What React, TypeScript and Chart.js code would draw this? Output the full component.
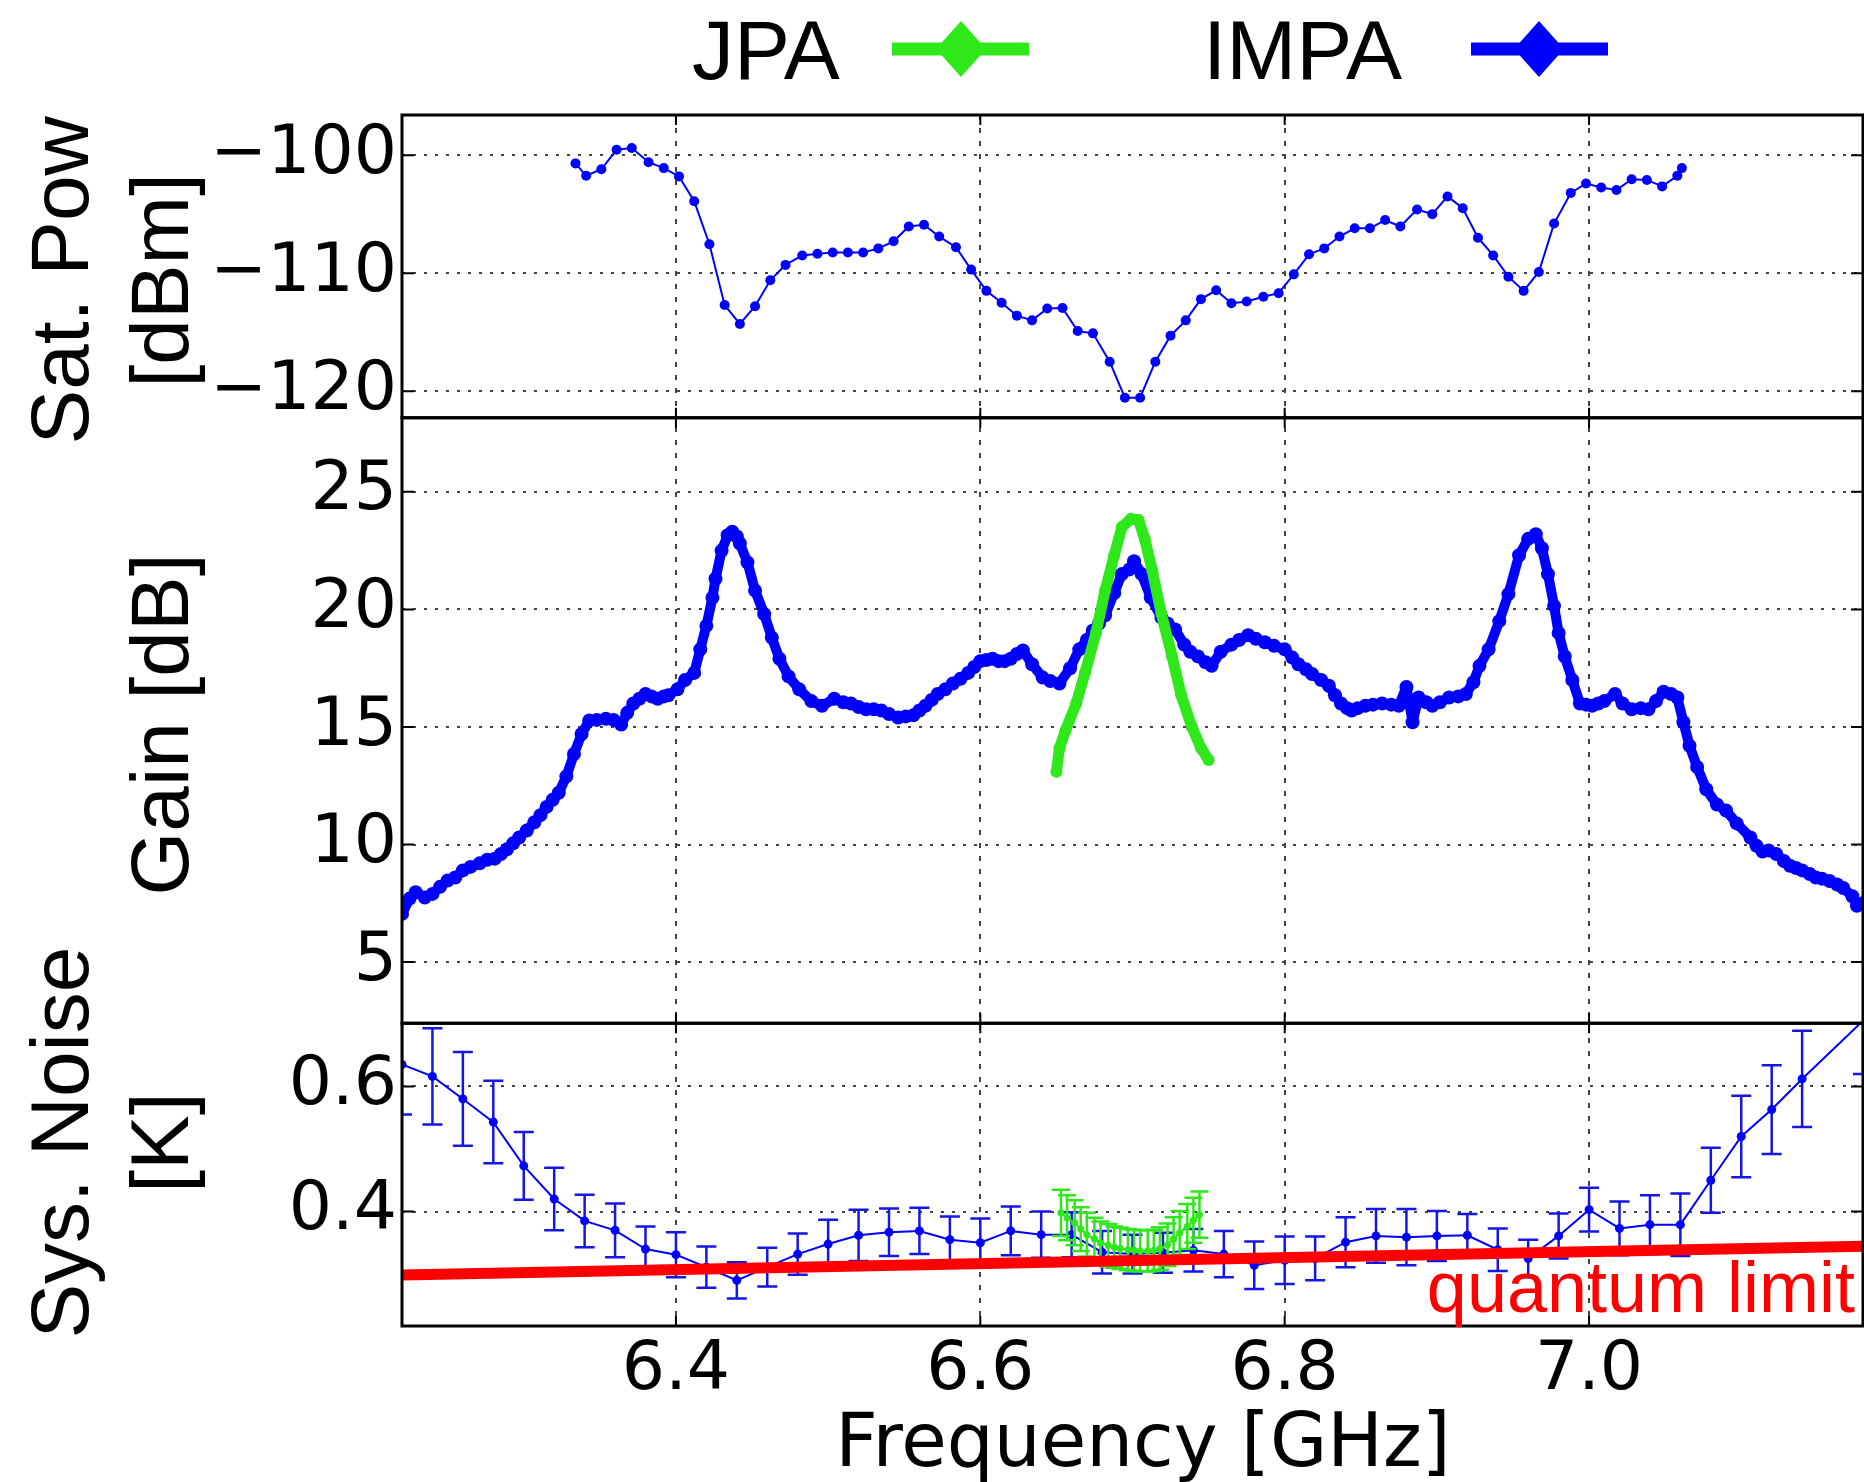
import React, { useEffect, useRef } from 'react';
import { Chart, registerables } from 'chart.js';

Chart.register(...registerables);

// ---------- tick labels ----------
const FREQ_TICKS = [6.4, 6.6, 6.8, 7.0];
const SAT_TICKS = [-120, -110, -100];
const GAIN_TICKS = [5, 10, 15, 20, 25];
const NOISE_TICKS = [0.4, 0.6];

// ---------- saturation power (IMPA) ----------
const SAT_FREQ = [
  6.334, 6.341, 6.351, 6.361, 6.371, 6.382, 6.392, 6.402, 6.412, 6.422,
  6.432, 6.442, 6.452, 6.462, 6.472, 6.483, 6.493, 6.503, 6.513, 6.523,
  6.533, 6.543, 6.553, 6.563, 6.573, 6.584, 6.594, 6.604, 6.614, 6.624,
  6.634, 6.644, 6.654, 6.664, 6.674, 6.685, 6.695, 6.705, 6.715, 6.725,
  6.735, 6.745, 6.755, 6.765, 6.775, 6.786, 6.796, 6.806, 6.816, 6.826,
  6.836, 6.846, 6.856, 6.866, 6.876, 6.887, 6.897, 6.907, 6.917, 6.927,
  6.937, 6.947, 6.957, 6.967, 6.977, 6.988, 6.998, 7.008, 7.018, 7.028,
  7.038, 7.048, 7.058, 7.061,
];
const SAT_POW = [
  -100.7, -101.75, -101.2, -99.55, -99.4, -100.6, -101.1, -101.8, -103.9, -107.55,
  -112.7, -114.3, -112.8, -110.6, -109.3, -108.5, -108.35, -108.25, -108.25, -108.25,
  -107.9, -107.3, -106.05, -105.9, -106.9, -107.8, -109.7, -111.5, -112.5, -113.6,
  -114.0, -113.0, -112.95, -114.9, -115.1, -117.5, -120.55, -120.55, -117.5, -115.3,
  -114.0, -112.2, -111.45, -112.55, -112.4, -112.0, -111.7, -110.1, -108.4, -107.9,
  -106.9, -106.2, -106.2, -105.5, -106.05, -104.6, -105.0, -103.5, -104.5, -107.0,
  -108.5, -110.3, -111.5, -109.9, -105.8, -103.2, -102.4, -102.75, -102.95, -102.05,
  -102.1, -102.65, -101.75, -101.1,
];

// ---------- gain ----------
const GAIN_FREQ = [
  6.220, 6.225, 6.229, 6.235, 6.240, 6.245, 6.250, 6.255, 6.260, 6.265,
  6.271, 6.276, 6.281, 6.285, 6.289, 6.293, 6.297, 6.302, 6.307, 6.311,
  6.315, 6.319, 6.323, 6.328, 6.333, 6.338, 6.343, 6.348, 6.354, 6.359,
  6.364, 6.368, 6.372, 6.376, 6.380, 6.384, 6.388, 6.392, 6.395, 6.401,
  6.406, 6.412, 6.416, 6.420, 6.424, 6.426, 6.430, 6.434, 6.437, 6.440,
  6.442, 6.447, 6.452, 6.458, 6.463, 6.468, 6.474, 6.481, 6.489, 6.496,
  6.504, 6.510, 6.515, 6.520, 6.525, 6.530, 6.535, 6.540, 6.546, 6.551,
  6.556, 6.560, 6.564, 6.568, 6.572, 6.577, 6.582, 6.587, 6.592, 6.596,
  6.600, 6.604, 6.608, 6.612, 6.616, 6.620, 6.624, 6.628, 6.634, 6.641,
  6.646, 6.652, 6.659, 6.665, 6.670, 6.674, 6.678, 6.682, 6.688, 6.693,
  6.698, 6.701, 6.706, 6.712, 6.719, 6.723, 6.728, 6.734, 6.738, 6.743,
  6.748, 6.752, 6.758, 6.765, 6.770, 6.776, 6.781, 6.787, 6.793, 6.800,
  6.805, 6.809, 6.814, 6.818, 6.824, 6.829, 6.833, 6.837, 6.841, 6.844,
  6.848, 6.853, 6.858, 6.864, 6.870, 6.875, 6.880, 6.882, 6.884, 6.888,
  6.893, 6.897, 6.902, 6.908, 6.914, 6.919, 6.924, 6.928, 6.934, 6.941,
  6.947, 6.954, 6.960, 6.965, 6.969, 6.973, 6.977, 6.980, 6.984, 6.989,
  6.994, 6.998, 7.002, 7.006, 7.010, 7.017, 7.022, 7.028, 7.034, 7.039,
  7.044, 7.049, 7.054, 7.058, 7.062, 7.066, 7.071, 7.077, 7.084, 7.090,
  7.097, 7.106, 7.110, 7.114, 7.118, 7.123, 7.128, 7.132, 7.136, 7.140,
  7.145, 7.149, 7.153, 7.158, 7.163, 7.167, 7.173, 7.176, 7.180,
];
const GAIN_IMPA = [
  7.05, 7.7, 7.97, 7.75, 7.9, 8.2, 8.47, 8.6, 8.9, 9.05,
  9.2, 9.35, 9.4, 9.6, 9.8, 10.05, 10.3, 10.6, 10.95, 11.25,
  11.6, 11.9, 12.2, 12.9, 13.85, 14.7, 15.27, 15.3, 15.35, 15.3,
  15.1, 15.6, 16.0, 16.2, 16.4, 16.3, 16.2, 16.3, 16.35, 16.6,
  17.0, 17.3, 18.3, 19.3, 20.5, 21.3, 22.5, 23.15, 23.3, 23.1,
  22.8, 22.0, 20.8, 19.8, 18.8, 17.9, 17.15, 16.6, 16.1, 15.9,
  16.2, 16.05, 16.0, 15.85, 15.75, 15.75, 15.7, 15.55, 15.4, 15.45,
  15.5, 15.7, 15.9, 16.15, 16.4, 16.6, 16.85, 17.05, 17.3, 17.55,
  17.8, 17.85, 17.9, 17.8, 17.8, 17.9, 18.1, 18.25, 17.67, 17.1,
  16.95, 16.85, 17.5, 18.3, 18.7, 19.1, 19.4, 19.75, 20.7, 21.5,
  21.7, 22.05, 21.5, 20.5, 19.65, 19.4, 19.15, 18.5, 18.2, 18.0,
  17.75, 17.6, 18.2, 18.5, 18.7, 18.9, 18.75, 18.6, 18.45, 18.3,
  17.95, 17.67, 17.45, 17.25, 17.0, 16.75, 16.35, 16.0, 15.8, 15.7,
  15.8, 15.9, 15.95, 16.0, 15.95, 15.9, 16.7, 16.0, 15.2, 16.25,
  16.05, 15.9, 16.05, 16.25, 16.3, 16.4, 16.9, 17.6, 18.3, 19.5,
  20.65, 22.3, 23.0, 23.2, 22.6, 21.5, 20.15, 19.0, 18.0, 17.0,
  16.0, 15.95, 15.9, 16.0, 16.1, 16.4, 16.0, 15.75, 15.8, 15.75,
  16.1, 16.5, 16.4, 16.25, 15.2, 14.2, 13.3, 12.35, 11.7, 11.45,
  10.9, 10.3, 9.95, 9.7, 9.75, 9.6, 9.3, 9.1, 9.0, 8.9,
  8.75, 8.6, 8.55, 8.45, 8.3, 8.15, 7.8, 7.4, 7.5,
];
const JPA_GAIN_FREQ = [
  6.650, 6.652, 6.656, 6.663, 6.669, 6.676, 6.682, 6.688, 6.693, 6.699,
  6.704, 6.708, 6.713, 6.719, 6.726, 6.732, 6.739, 6.745, 6.750,
];
const JPA_GAIN = [
  13.1, 14.1, 14.85, 16.0, 17.35, 19.0, 20.8, 22.3, 23.5, 23.85,
  23.8, 23.0, 21.65, 19.8, 18.0, 16.35, 15.0, 14.1, 13.6,
];

// ---------- system noise ----------
const NOISE_FREQ = [
  6.22, 6.24, 6.26, 6.28, 6.30, 6.32, 6.34, 6.36, 6.38, 6.40,
  6.42, 6.44, 6.46, 6.48, 6.50, 6.52, 6.54, 6.56, 6.58, 6.60,
  6.62, 6.64, 6.66, 6.68, 6.70, 6.72, 6.74, 6.76, 6.78, 6.80,
  6.82, 6.84, 6.86, 6.88, 6.90, 6.92, 6.94, 6.96, 6.98, 7.00,
  7.02, 7.04, 7.06, 7.08, 7.10, 7.12, 7.14, 7.18,
];
const NOISE_IMPA = [
  0.635, 0.616, 0.580, 0.543, 0.473, 0.420, 0.385, 0.370, 0.340, 0.331,
  0.311, 0.290, 0.311, 0.332, 0.348, 0.362, 0.367, 0.369, 0.355, 0.350,
  0.369, 0.363, 0.363, 0.335, 0.332, 0.334, 0.338, 0.332, 0.314, 0.322,
  0.325, 0.351, 0.361, 0.359, 0.361, 0.362, 0.339, 0.325, 0.361, 0.403,
  0.373, 0.379, 0.379, 0.450, 0.520, 0.563, 0.612, 0.705,
];
const NOISE_IMPA_ERR = [
  0.080, 0.077, 0.075, 0.066, 0.054, 0.050, 0.042, 0.043, 0.036, 0.036,
  0.033, 0.029, 0.031, 0.033, 0.039, 0.041, 0.038, 0.037, 0.037, 0.039,
  0.039, 0.037, 0.036, 0.034, 0.031, 0.032, 0.034, 0.037, 0.038, 0.038,
  0.035, 0.040, 0.043, 0.045, 0.040, 0.034, 0.034, 0.030, 0.036, 0.035,
  0.043, 0.047, 0.050, 0.052, 0.065, 0.071, 0.077, 0.085,
];
const JPA_NOISE_FREQ = [
  6.653, 6.657, 6.662, 6.666, 6.670, 6.675, 6.679, 6.684, 6.688, 6.692,
  6.697, 6.701, 6.705, 6.710, 6.714, 6.718, 6.723, 6.727, 6.731, 6.736,
  6.740, 6.744,
];
const JPA_NOISE = [
  0.398, 0.390, 0.382, 0.372, 0.363, 0.356, 0.350, 0.346, 0.343, 0.341,
  0.339, 0.338, 0.337, 0.337, 0.338, 0.341, 0.347, 0.356, 0.366, 0.376,
  0.386, 0.395,
];
const JPA_NOISE_ERR = [
  0.037, 0.036, 0.036, 0.035, 0.035, 0.034, 0.034, 0.034, 0.033, 0.033,
  0.033, 0.033, 0.033, 0.033, 0.033, 0.034, 0.034, 0.035, 0.035, 0.036,
  0.036, 0.037,
];
const QL_FREQ = [6.22, 7.18];
const QL_TEMP = [0.2985, 0.3445];

// ---------- styling ----------
const BLUE = '#0000ff';
const GREEN = '#2ee81a';
const RED = '#ff0000';
const W = 1870;
const H = 1482;
const TICK_FONT = { family: 'DejaVu Sans', size: 68 };

const pts = (xs: number[], ys: number[]) => xs.map((x, i) => ({ x, y: ys[i] }));

const panelPlugin = {
  id: 'panels',
  beforeDatasetDraw(chart: any, args: any) {
    const ds: any = chart.data.datasets[args.index];
    const ys: any = chart.scales[ds.yAxisID];
    const xs: any = chart.scales.x;
    const { ctx, chartArea } = chart;
    ctx.save();
    ctx.beginPath();
    ctx.rect(chartArea.left, ys.top, chartArea.right - chartArea.left, ys.bottom - ys.top);
    ctx.clip();
    if (ds.errors) {
      ctx.strokeStyle = ds.errorColor;
      ctx.lineWidth = ds.errorWidth;
      const cap = ds.capHalf;
      ds.data.forEach((p: any, i: number) => {
        const e = ds.errors[i];
        const px = xs.getPixelForValue(p.x);
        const t = ys.getPixelForValue(p.y + e);
        const b = ys.getPixelForValue(p.y - e);
        ctx.beginPath();
        ctx.moveTo(px, t); ctx.lineTo(px, b);
        ctx.moveTo(px - cap, t); ctx.lineTo(px + cap, t);
        ctx.moveTo(px - cap, b); ctx.lineTo(px + cap, b);
        ctx.stroke();
      });
    }
  },
  afterDatasetDraw(chart: any) {
    chart.ctx.restore();
  },
  afterDatasetsDraw(chart: any) {
    const { ctx, chartArea } = chart;
    const xs: any = chart.scales.x;
    const L = chartArea.left;
    const R = chartArea.right;
    ctx.save();
    ctx.strokeStyle = '#000';
    ['ySat', 'yGain', 'yNoise'].forEach((id) => {
      const ys: any = chart.scales[id];
      ctx.lineWidth = 2;
      ys.ticks.forEach((t: any) => {
        const py = ys.getPixelForValue(t.value);
        ctx.beginPath();
        ctx.moveTo(L, py); ctx.lineTo(L + 12, py);
        ctx.moveTo(R - 12, py); ctx.lineTo(R, py);
        ctx.stroke();
      });
      xs.ticks.forEach((t: any) => {
        const px = xs.getPixelForValue(t.value);
        ctx.beginPath();
        ctx.moveTo(px, ys.top); ctx.lineTo(px, ys.top + 10);
        ctx.moveTo(px, ys.bottom - 10); ctx.lineTo(px, ys.bottom);
        ctx.stroke();
      });
      ctx.lineWidth = 3;
      ctx.strokeRect(L, ys.top, R - L, ys.bottom - ys.top);
    });
    ctx.restore();
  },
  afterDraw(chart: any) {
    const { ctx } = chart;
    ctx.save();
    ctx.fillStyle = '#000';
    // y-axis titles
    const titles = [
      { id: 'ySat', dy: 14, lines: [['Sat. Pow', 88], ['[dBm]', 188]] },
      { id: 'yGain', dy: 4, lines: [['Gain [dB]', 188]] },
      { id: 'yNoise', dy: -32, lines: [['Sys. Noise', 88], ['[K]', 188]] },
    ];
    ctx.font = '82px "Liberation Sans"';
    ctx.textAlign = 'center';
    ctx.textBaseline = 'alphabetic';
    titles.forEach((tt) => {
      const ys: any = chart.scales[tt.id];
      const cy = (ys.top + ys.bottom) / 2 + tt.dy;
      tt.lines.forEach(([txt, bx]: any) => {
        ctx.save();
        ctx.translate(bx, cy);
        ctx.rotate(-Math.PI / 2);
        ctx.fillText(txt, 0, 0);
        ctx.restore();
      });
    });
    // x-axis title
    ctx.font = '74px "DejaVu Sans"';
    ctx.fillText('Frequency [GHz]', 1143, 1466);
    // quantum limit label
    ctx.fillStyle = RED;
    ctx.font = '72px "Liberation Sans"';
    ctx.textAlign = 'right';
    ctx.fillText('quantum limit', 1855, 1312);
    // legend
    const legend = [
      { label: 'JPA', color: GREEN, tx: 692, x0: 892, x1: 1029, dx: 961 },
      { label: 'IMPA', color: BLUE, tx: 1203, x0: 1471, x1: 1608, dx: 1539 },
    ];
    ctx.font = '84px "Liberation Sans"';
    ctx.textAlign = 'left';
    legend.forEach((lg) => {
      ctx.fillStyle = '#000';
      ctx.fillText(lg.label, lg.tx, 79);
      const cy = 49;
      ctx.strokeStyle = lg.color;
      ctx.lineWidth = 13;
      ctx.beginPath();
      ctx.moveTo(lg.x0, cy); ctx.lineTo(lg.x1, cy);
      ctx.stroke();
      ctx.fillStyle = lg.color;
      ctx.beginPath();
      ctx.moveTo(lg.dx, cy - 28);
      ctx.lineTo(lg.dx + 25, cy);
      ctx.lineTo(lg.dx, cy + 28);
      ctx.lineTo(lg.dx - 25, cy);
      ctx.closePath();
      ctx.fill();
    });
    ctx.restore();
  },
};

const yAxis = (
  ticks: number[],
  min: number,
  max: number,
  stackWeight: number,
  weight: number,
  fmt: (v: number) => string,
) => ({
  type: 'linear',
  position: 'left',
  stack: 'panels',
  stackWeight,
  weight,
  min,
  max,
  afterBuildTicks: (s: any) => {
    s.ticks = ticks.map((v) => ({ value: v }));
  },
  afterFit: (s: any) => {
    s.width = 402;
  },
  ticks: {
    font: TICK_FONT,
    color: '#000',
    padding: 5,
    autoSkip: false,
    callback: (v: any) => fmt(Number(v)),
  },
  grid: { color: '#444', lineWidth: 2, drawTicks: false },
  border: { display: false, dash: [3, 8] },
  title: { display: false },
});

function buildConfig(): any {
  return {
    type: 'line',
    data: {
      datasets: [
        {
          label: 'quantum limit',
          data: pts(QL_FREQ, QL_TEMP),
          yAxisID: 'yNoise',
          borderColor: RED,
          borderWidth: 11,
          pointRadius: 0,
          order: 0,
        },
        {
          label: 'JPA noise',
          data: pts(JPA_NOISE_FREQ, JPA_NOISE),
          yAxisID: 'yNoise',
          borderColor: GREEN,
          backgroundColor: GREEN,
          borderWidth: 2,
          pointStyle: 'circle',
          pointRadius: 3.5,
          pointBorderWidth: 0,
          errors: JPA_NOISE_ERR,
          errorColor: GREEN,
          errorWidth: 2.5,
          capHalf: 9,
          order: 1,
        },
        {
          label: 'IMPA noise',
          data: pts(NOISE_FREQ, NOISE_IMPA),
          yAxisID: 'yNoise',
          borderColor: BLUE,
          backgroundColor: BLUE,
          borderWidth: 2,
          pointStyle: 'circle',
          pointRadius: 4.5,
          pointBorderWidth: 0,
          errors: NOISE_IMPA_ERR,
          errorColor: '#1515e8',
          errorWidth: 2.5,
          capHalf: 10,
          order: 2,
        },
        {
          label: 'JPA gain',
          data: pts(JPA_GAIN_FREQ, JPA_GAIN),
          yAxisID: 'yGain',
          borderColor: GREEN,
          backgroundColor: GREEN,
          borderWidth: 11,
          borderCapStyle: 'round',
          borderJoinStyle: 'round',
          pointStyle: 'circle',
          pointRadius: 6,
          pointBorderWidth: 0,
          order: 3,
        },
        {
          label: 'IMPA gain',
          data: pts(GAIN_FREQ, GAIN_IMPA),
          yAxisID: 'yGain',
          borderColor: BLUE,
          backgroundColor: BLUE,
          borderWidth: 10,
          borderJoinStyle: 'round',
          pointStyle: 'circle',
          pointRadius: 7,
          pointBorderWidth: 0,
          order: 4,
        },
        {
          label: 'IMPA sat. power',
          data: pts(SAT_FREQ, SAT_POW),
          yAxisID: 'ySat',
          borderColor: BLUE,
          backgroundColor: BLUE,
          borderWidth: 2,
          pointStyle: 'circle',
          pointRadius: 5,
          pointBorderWidth: 0,
          order: 5,
        },
      ],
    },
    options: {
      responsive: false,
      animation: false,
      devicePixelRatio: 1,
      layout: { padding: { top: 115, left: 0, right: 0, bottom: 0 } },
      plugins: {
        legend: { display: false },
        tooltip: { enabled: false },
        title: { display: false },
      },
      elements: { line: { tension: 0 } },
      scales: {
        x: {
          type: 'linear',
          position: 'bottom',
          min: 6.22,
          max: 7.18,
          afterBuildTicks: (s: any) => {
            s.ticks = FREQ_TICKS.map((v) => ({ value: v }));
          },
          afterFit: (s: any) => {
            s.height = 156;
          },
          ticks: {
            font: TICK_FONT,
            color: '#000',
            padding: 5,
            maxRotation: 0,
            autoSkip: false,
            callback: (v: any) => Number(v).toFixed(1),
          },
          grid: { color: '#444', lineWidth: 2, drawTicks: false },
          border: { display: false, dash: [5, 8] },
          title: { display: false },
        },
        ySat: yAxis(SAT_TICKS, -122.25, -96.6, 1, 3, (v) => (v < 0 ? '\u2212' + Math.abs(v) : String(v))),
        yGain: yAxis(GAIN_TICKS, 2.4, 28.15, 2, 2, (v) => String(v)),
        yNoise: yAxis(NOISE_TICKS, 0.217, 0.701, 1, 1, (v) => v.toFixed(1)),
      },
    },
    plugins: [panelPlugin],
  };
}

export default function App() {
  const ref = useRef<HTMLCanvasElement>(null);
  useEffect(() => {
    if (!ref.current) return;
    const chart = new Chart(ref.current, buildConfig());
    return () => chart.destroy();
  }, []);
  return (
    <div
      style={{
        position: 'absolute',
        left: 0,
        top: 0,
        width: 1864,
        height: 1482,
        overflow: 'hidden',
        background: '#fff',
      }}
    >
      <canvas ref={ref} width={W} height={H} style={{ width: W, height: H, display: 'block' }} />
    </div>
  );
}
